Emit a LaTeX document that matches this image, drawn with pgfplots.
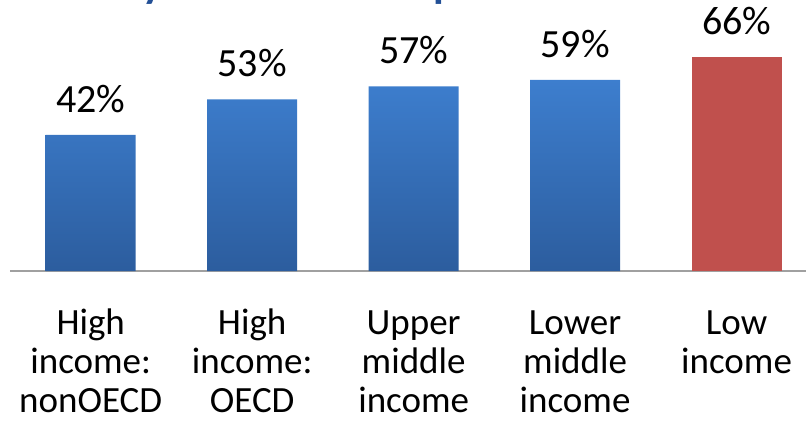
\documentclass[border=0pt]{standalone}
\usepackage{pgfplots}
\pgfplotsset{compat=1.18}
\usepackage{fontspec}
\setmainfont{Carlito}
\definecolor{bartop}{RGB}{61,126,206}
\definecolor{barbot}{RGB}{44,93,158}
\definecolor{barred}{RGB}{192,80,77}
\definecolor{titleblue}{RGB}{35,80,150}
\definecolor{axgray}{RGB}{160,160,160}
\begin{document}
\begin{tikzpicture}
\begin{axis}[
    at={(0,0)}, anchor=south west,
    scale only axis,
    width=796pt, height=271pt,
    xmin=-0.5, xmax=4.43,
    ymin=0, ymax=83.64,
    ybar, bar width=90pt, bar shift=0pt,
    axis y line=none,
    axis x line*=bottom,
    x axis line style={-, draw=axgray, line width=1.8pt},
    xtick={0,1,2,3,4},
    xticklabels={
        {\strut High\\income:\\nonOECD},
        {\strut High\\income:\\OECD},
        {\strut Upper\\middle\\income},
        {\strut Lower\\middle\\income},
        {\strut Low\\income}},
    major tick length=0pt,
    xticklabel style={anchor=north, align=center, inner sep=0pt, yshift=-36pt,
        font=\fontsize{37}{39}\selectfont},
    /pgf/number format/assume math mode=true,
    nodes near coords={\pgfmathprintnumber{\pgfplotspointmeta}\%},
    nodes near coords style={anchor=south, inner sep=0pt, yshift=22pt,
        font=\fontsize{40}{44}\selectfont, text=black},
    clip=false,
]
\addplot[draw=none, top color=bartop, bottom color=barbot]
    coordinates {(0,42) (1,53) (2,57) (3,59)};
\addplot[draw=none, fill=barred]
    coordinates {(4,66)};
\end{axis}
% descenders of the cropped title above the chart
\node[anchor=base west, inner sep=0pt, text=titleblue,
      font=\fontsize{44}{48}\selectfont\bfseries] at (132pt,273pt) {y};
\node[anchor=base west, inner sep=0pt, text=titleblue,
      font=\fontsize{44}{48}\selectfont\bfseries] at (423pt,273pt) {p};
\pgfresetboundingbox
\path[use as bounding box] (-10pt,-158pt) rectangle (796pt,271pt);
\end{tikzpicture}
\end{document}
